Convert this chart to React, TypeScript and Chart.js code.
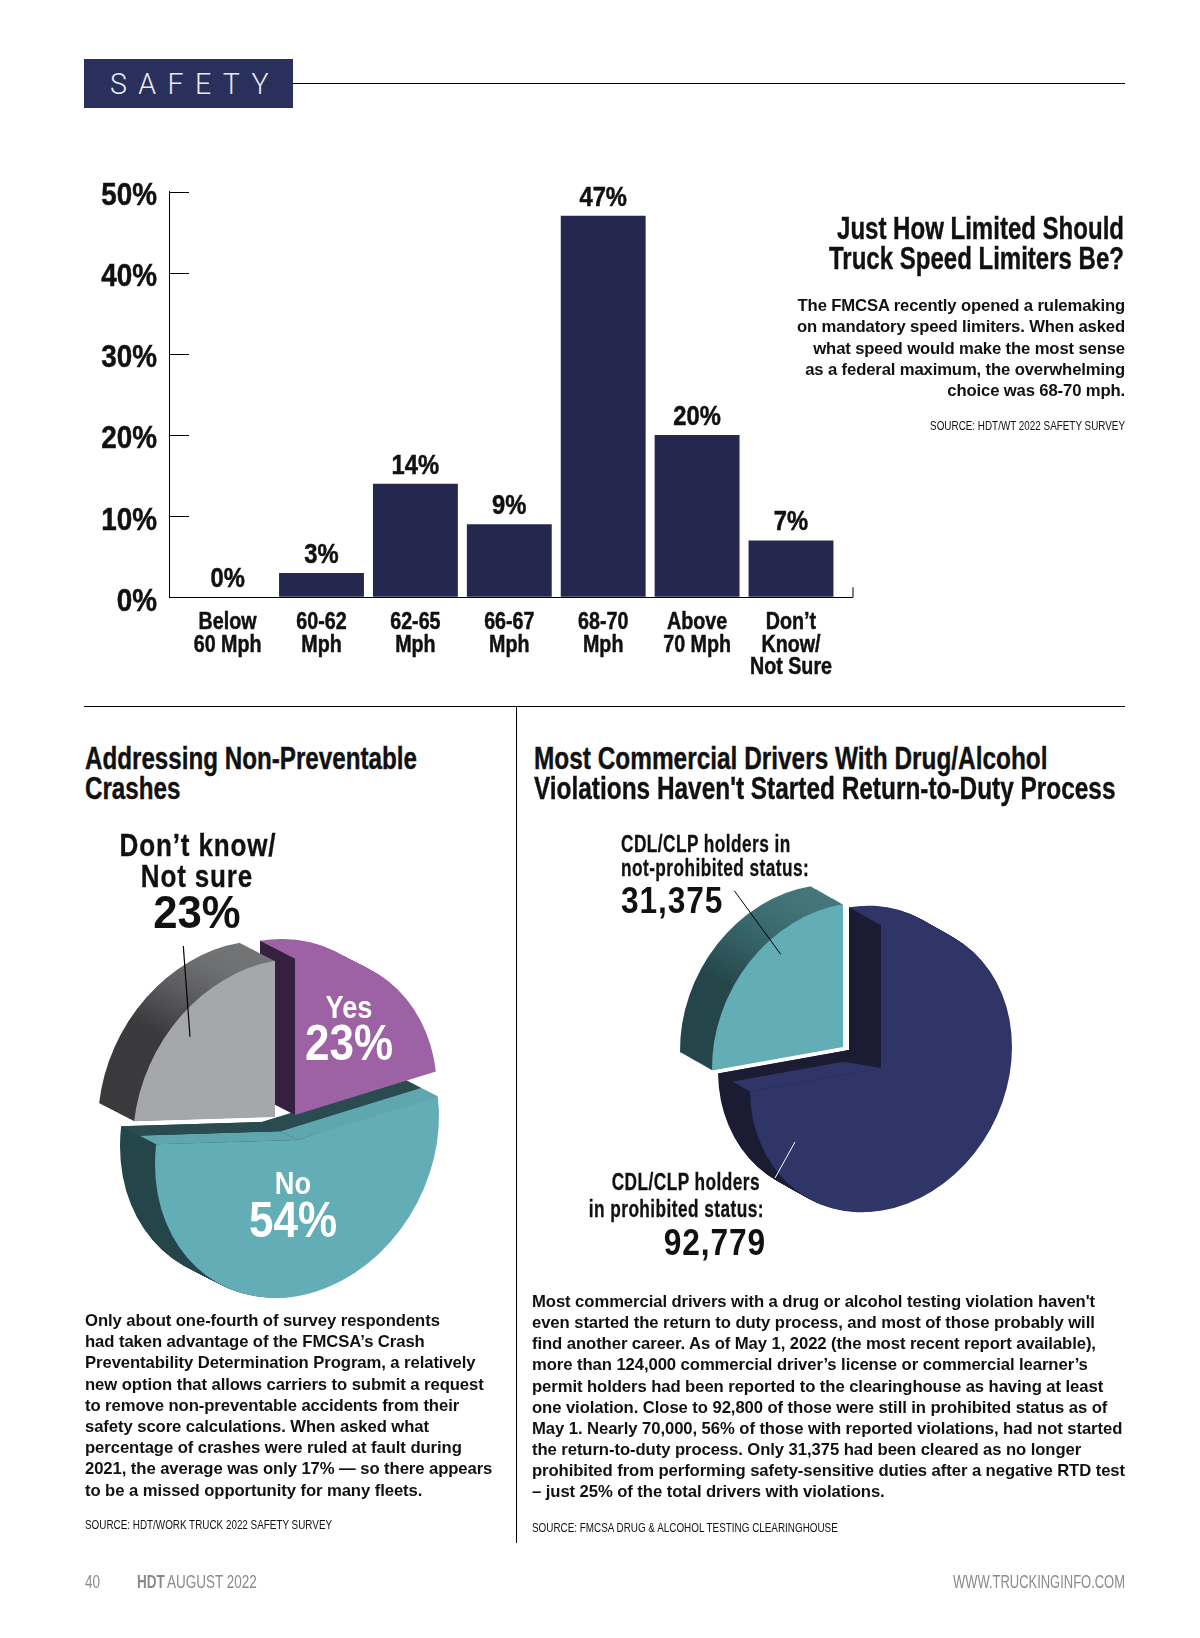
import React, { useEffect, useRef } from "react";
import { Chart, registerables } from "chart.js";

Chart.register(...registerables);

// ---------- data ----------
const speedLabels = [["Below", "60 Mph"], ["60-62", "Mph"], ["62-65", "Mph"], ["66-67", "Mph"], ["68-70", "Mph"], ["Above", "70 Mph"], ["Don’t", "Know/", "Not Sure"]];
const speedValues = [0, 3, 14, 9, 47, 20, 7];
const crashLabels = ["Yes", "No", "Don’t know/Not sure"];
const crashValues = [23, 54, 23];
const drugLabels = ["CDL/CLP holders in prohibited status", "CDL/CLP holders in not-prohibited status"];
const drugValues = [92779, 31375];

const speedTitle = ["Just How Limited Should", "Truck Speed Limiters Be?"];
const speedBody = [
  "The FMCSA recently opened a rulemaking",
  "on mandatory speed limiters. When asked",
  "what speed would make the most sense",
  "as a federal maximum, the overwhelming",
  "choice was 68-70 mph.",
];
const crashBody = [
  "Only about one-fourth of survey respondents",
  "had taken advantage of the FMCSA’s Crash",
  "Preventability Determination Program, a relatively",
  "new option that allows carriers to submit a request",
  "to remove non-preventable accidents from their",
  "safety score calculations. When asked what",
  "percentage of crashes were ruled at fault during",
  "2021, the average was only 17% — so there appears",
  "to be a missed opportunity for many fleets.",
];
const drugBody = [
  "Most commercial drivers with a drug or alcohol testing violation haven't",
  "even started the return to duty process, and most of those probably will",
  "find another career. As of May 1, 2022 (the most recent report available),",
  "more than 124,000 commercial driver’s license or commercial learner’s",
  "permit holders had been reported to the clearinghouse as having at least",
  "one violation. Close to 92,800 of those were still in prohibited status as of",
  "May 1. Nearly 70,000, 56% of those with reported violations, had not started",
  "the return-to-duty process. Only 31,375 had been cleared as no longer",
  "prohibited from performing safety-sensitive duties after a negative RTD test",
  "– just 25% of the total drivers with violations.",
];

// ---------- style ----------
const SANS = '"Liberation Sans", Arial, sans-serif';
const BAR = "#24284f";

type SliceStyle = {
  index: number;
  face: string;
  explode: [number, number];
  outerStops: [number, string][];
  outerLine: [number, number, number, number];
  innerStops: [number, string][];
  startStops?: [number, string][];
  apexShade?: [number, number, string];
};
type PieStyle = { shear: number; scaleY: number; depth: [number, number]; slices: SliceStyle[] };

const crashStyle: PieStyle = {
  shear: -0.17,
  scaleY: 1.1,
  depth: [-35, -18],
  slices: [
    {
      index: 1, face: "#63adb6", explode: [0, 0],
      outerLine: [-120, 0, 60, 0],
      outerStops: [[0, "#24464a"], [0.75, "#24464a"], [0.8, "#5ba0a8"], [1, "#5ba0a8"]],
      innerStops: [[0, "#5fa6ae"], [0.46, "#5fa6ae"], [0.49, "#2a4c50"], [1, "#2a4c50"]],
    },
    {
      index: 0, face: "#9c62a4", explode: [-2, -25],
      outerLine: [0, -190, 0, -100],
      outerStops: [[0, "#9c62a4"], [1, "#9c62a4"]],
      innerStops: [[0, "#35213f"], [1, "#35213f"]],
    },
    {
      index: 2, face: "#a6a7aa", explode: [-22, -23],
      outerLine: [0, -190, 0, -90],
      outerStops: [[0, "#929395"], [0.55, "#6e6f71"], [1, "#3a3a3c"]],
      innerStops: [[0, "#3a3a3c"], [1, "#3a3a3c"]],
    },
  ],
};
const drugStyle: PieStyle = {
  shear: -0.16,
  scaleY: 1.09,
  depth: [-32, -18],
  slices: [
    {
      index: 0, face: "#2f3567", explode: [0, 0],
      outerLine: [0, -120, 0, -20],
      outerStops: [[0, "#2f3567"], [1, "#1b1c33"]],
      innerStops: [[0, "#2f3567"], [0.53, "#2f3567"], [0.56, "#1b1c33"], [1, "#1b1c33"]],
      startStops: [[0, "#1b1c33"], [1, "#1b1c33"]],
      apexShade: [0.255, 0.92, "#1b1c33"],
    },
    {
      index: 1, face: "#63adb6", explode: [-38, -21],
      outerLine: [0, -180, 0, -70],
      outerStops: [[0, "#5f9a9f"], [0.6, "#3b6a6e"], [1, "#24464a"]],
      innerStops: [[0, "#24464a"], [1, "#24464a"]],
    },
  ],
};

// ---------- plugins ----------
function narrowText(ctx: any, text: string, x: number, y: number, size: number, sx: number, align: string) {
  ctx.save();
  ctx.translate(x, y);
  ctx.scale(sx, 1);
  ctx.font = `bold ${size}px ${SANS}`;
  ctx.textAlign = align;
  ctx.textBaseline = "alphabetic";
  ctx.fillStyle = "#111";
  ctx.strokeStyle = "#111";
  ctx.lineWidth = 0.5;
  ctx.fillText(text, 0, 0);
  ctx.strokeText(text, 0, 0);
  ctx.restore();
}

const barDecor = {
  id: "barDecor",
  afterDatasetsDraw(chart: any) {
    const { ctx, chartArea, scales } = chart;
    ctx.save();
    ctx.strokeStyle = "#000";
    ctx.lineWidth = 1;
    ctx.beginPath();
    for (const t of scales.y.ticks) {
      if (t.value === 0) continue;
      const y = Math.round(scales.y.getPixelForValue(t.value)) + 0.5;
      ctx.moveTo(chartArea.left, y);
      ctx.lineTo(chartArea.left + 20, y);
    }
    ctx.moveTo(chartArea.right + 0.5, chartArea.bottom);
    ctx.lineTo(chartArea.right + 0.5, chartArea.bottom - 10);
    ctx.stroke();
    ctx.restore();
    // value labels over the bars
    chart.getDatasetMeta(0).data.forEach((bar: any, i: number) => {
      narrowText(ctx, `${speedValues[i]}%`, bar.x, bar.y - 10, 27, 0.88, "center");
    });
    // axis tick labels
    for (const t of scales.y.ticks) {
      narrowText(ctx, t.label, chartArea.left - 12, scales.y.getPixelForValue(t.value) + 13.5, 32, 0.87, "right");
    }
    for (const t of scales.x.ticks) {
      const lines: string[] = Array.isArray(t.label) ? t.label : [t.label];
      lines.forEach((line, i) => {
        narrowText(ctx, line, scales.x.getPixelForValue(t.value), chartArea.bottom + 32 + i * 22.4, 24, 0.82, "center");
      });
    }
  },
};

const pie3d = {
  id: "pie3d",
  beforeDatasetDraw(chart: any, args: any, opts: any) {
    const style: PieStyle = opts.style;
    const { ctx } = chart;
    const arcs = args.meta.data;
    const [dx, dy] = style.depth;
    const steps = Math.ceil(Math.hypot(dx, dy));
    for (const s of style.slices) {
      const arc = arcs[s.index];
      const { x: cx, y: cy, startAngle, endAngle, outerRadius } = arc.getProps(["x", "y", "startAngle", "endAngle", "outerRadius"], true);
      const ox = cx + s.explode[0];
      const oy = cy + s.explode[1];
      const base = arc.options;
      const [l0, l1, l2, l3] = s.outerLine;
      const outer = ctx.createLinearGradient(cx + l0, cy + l1, cx + l2, cy + l3);
      s.outerStops.forEach(([p, c]) => outer.addColorStop(p, c));
      const place = (tx: number, ty: number) => {
        ctx.translate(tx, ty);
        ctx.transform(1, style.shear, 0, style.scaleY, 0, 0);
        ctx.translate(-cx, -cy);
      };
      arc.options = { ...base, backgroundColor: outer, borderWidth: 0 };
      for (let i = steps; i >= 1; i--) {
        ctx.save();
        place(ox + (dx * i) / steps, oy + (dy * i) / steps);
        arc.draw(ctx);
        ctx.restore();
      }
      // radial walls that face the viewer
      const pt = (a: number): [number, number] => {
        const ux = outerRadius * Math.cos(a);
        const uy = outerRadius * Math.sin(a);
        return [ux, style.shear * ux + style.scaleY * uy];
      };
      const wall = (a: number, isStart: boolean) => {
        const [px, py] = pt(a);
        const cross = px * dy - py * dx;
        if (isStart ? cross >= 0 : cross <= 0) return;
        const len = Math.hypot(px, py);
        const nx = -py / len;
        const ny = px / len;
        const d = dx * nx + dy * ny;
        const g = ctx.createLinearGradient(ox, oy, ox + nx * d, oy + ny * d);
        const stops = isStart && s.startStops ? s.startStops : s.innerStops;
        stops.forEach(([p, c]) => g.addColorStop(p, c));
        ctx.save();
        ctx.fillStyle = g;
        ctx.beginPath();
        ctx.moveTo(ox, oy);
        ctx.lineTo(ox + px, oy + py);
        ctx.lineTo(ox + px + dx, oy + py + dy);
        ctx.lineTo(ox + dx, oy + dy);
        ctx.closePath();
        ctx.fill();
        if (!isStart && s.apexShade) {
          const [ta, tb, c] = s.apexShade;
          ctx.fillStyle = c;
          ctx.beginPath();
          ctx.moveTo(ox, oy);
          ctx.lineTo(ox + ta * px + tb * dx, oy + ta * py + tb * dy);
          ctx.lineTo(ox + dx, oy + dy);
          ctx.closePath();
          ctx.fill();
        }
        ctx.restore();
      };
      wall(startAngle, true);
      wall(endAngle, false);
      arc.options = { ...base, backgroundColor: s.face, borderWidth: 0 };
      ctx.save();
      place(ox, oy);
      arc.draw(ctx);
      ctx.restore();
      arc.options = base;
    }
    return false;
  },
};

// ---------- charts ----------
function BarChart() {
  const ref = useRef<HTMLCanvasElement>(null);
  useEffect(() => {
    const chart = new Chart(ref.current!, {
      type: "bar",
      data: {
        datasets: [{
          data: speedValues.map((v, i) => ({ x: i, y: v })),
          backgroundColor: BAR,
          barPercentage: 0.904,
          categoryPercentage: 1,
        }],
      },
      options: {
        responsive: false,
        animation: false,
        layout: { padding: { left: 59, right: 47.5, top: 191.5, bottom: 22.7 } },
        plugins: { legend: { display: false }, tooltip: { enabled: false } },
        scales: {
          x: {
            type: "linear",
            offset: false,
            min: -0.624,
            max: 6.655,
            afterBuildTicks: (s: any) => { s.ticks = speedLabels.map((_, i) => ({ value: i })); },
            afterFit: (s: any) => { s.height = 100; },
            grid: { display: true, offset: false, drawOnChartArea: false, drawTicks: false, color: "rgba(0,0,0,0)" },
            border: { display: true, color: "#000", width: 1 },
            ticks: { display: false, autoSkip: false, callback: (v: any) => speedLabels[v] as any },
          },
          y: {
            min: 0,
            max: 50,
            afterFit: (s: any) => { s.width = 110; },
            grid: { display: true, drawOnChartArea: false, drawTicks: false },
            border: { display: true, color: "#000", width: 1 },
            ticks: { display: false, stepSize: 10, callback: (v: any) => `${v}%` },
          },
        },
      },
      plugins: [barDecor],
    } as any);
    return () => chart.destroy();
  }, []);
  return <canvas ref={ref} width={900} height={720} style={{ position: "absolute", left: 0, top: 0, display: "block" }} />;
}

function Pie3D({ labels, values, style, left, top, size, pad }: any) {
  const ref = useRef<HTMLCanvasElement>(null);
  useEffect(() => {
    const chart = new Chart(ref.current!, {
      type: "pie",
      data: { labels, datasets: [{ data: values, borderWidth: 0, clip: false }] },
      options: {
        responsive: false,
        animation: false,
        layout: { padding: pad },
        plugins: { legend: { display: false }, tooltip: { enabled: false }, pie3d: { style } },
      },
      plugins: [pie3d],
    } as any);
    return () => chart.destroy();
  }, []);
  return <canvas ref={ref} width={size} height={size} style={{ position: "absolute", left, top, display: "block" }} />;
}

// ---------- text ----------
function T({ x, y, align = "left", size, weight = 700, color = "#111", spacing = 0, sx = 1, font = SANS, stroke = 0, children }: any) {
  const tx = align === "center" ? "-50%" : align === "right" ? "-100%" : "0";
  return (
    <div
      style={{
        position: "absolute",
        left: x,
        top: y,
        transform: `translate(${tx}, -50%) scaleX(${sx})`,
        transformOrigin: align,
        fontFamily: font,
        fontSize: size,
        fontWeight: weight,
        color,
        letterSpacing: spacing,
        lineHeight: 1,
        whiteSpace: "nowrap",
        WebkitTextStroke: stroke ? `${stroke}px ${color}` : undefined,
      }}
    >
      {children}
    </div>
  );
}

function Rule({ x, y, w, h, c = "#000" }: any) {
  return <div style={{ position: "absolute", left: x, top: y, width: w, height: h, background: c }} />;
}

export default function App() {
  const title = { size: 31, sx: 0.78, stroke: 0.4 };
  const small = { size: 23, sx: 0.75, stroke: 0.3 };
  const src = { size: 13, weight: 400, sx: 0.76 };
  const foot = { size: 18, weight: 400, color: "#8a8a8a", sx: 0.75 };
  const body = { size: 17, sx: 0.98, spacing: -0.08 };
  return (
    <div style={{ position: "absolute", left: 0, top: 0, width: 1200, height: 1638, background: "#fff", overflow: "hidden" }}>
      <BarChart />
      <Pie3D labels={crashLabels} values={crashValues} style={crashStyle} left={17} top={860} size={560} pad={138} />
      <Pie3D labels={drugLabels} values={drugValues} style={drugStyle} left={601} top={788} size={560} pad={149} />

      <Rule x={84} y={59} w={209} h={49} c="#2a305c" />
      <Rule x={293} y={83} w={832} h={1} />
      <T x={110} y={84} size={30} font="Roboto" weight={300} color="#e9ebf2" spacing={12} sx={0.95}>SAFETY</T>

      {speedTitle.map((t, i) => (
        <T key={t} x={1124} y={227.5 + i * 30.3} align="right" {...title} sx={0.775}>{t}</T>
      ))}
      {speedBody.map((t, i) => (
        <T key={t} x={1125} y={305 + i * 21.25} align="right" {...body} spacing={-0.14}>{t}</T>
      ))}
      <T x={1125} y={425} align="right" {...src}>SOURCE: HDT/WT 2022 SAFETY SURVEY</T>

      <Rule x={84} y={706} w={1041} h={1} />
      <Rule x={516} y={706} w={1} h={837} />

      <T x={84.6} y={758} {...title}>Addressing Non-Preventable</T>
      <T x={84.6} y={788} {...title}>Crashes</T>
      <T x={534} y={758} {...title} sx={0.787}>Most Commercial Drivers With Drug/Alcohol</T>
      <T x={534} y={788} {...title} sx={0.787}>Violations Haven't Started Return-to-Duty Process</T>

      <T x={198} y={845} align="center" size={31} spacing={1} sx={0.84} stroke={0.3}>Don’t know/</T>
      <T x={197} y={876} align="center" size={31} spacing={1} sx={0.84} stroke={0.3}>Not sure</T>
      <T x={197} y={912} align="center" size={46} sx={0.95}>23%</T>
      <T x={349} y={1007} align="center" size={32} color="#fff" sx={0.85}>Yes</T>
      <T x={349} y={1043} align="center" size={50} color="#fff" sx={0.88}>23%</T>
      <T x={293} y={1183} align="center" size={32} color="#fff" sx={0.85}>No</T>
      <T x={293} y={1220} align="center" size={50} color="#fff" sx={0.88}>54%</T>

      <T x={620.7} y={844} spacing={0.6} {...small}>CDL/CLP holders in</T>
      <T x={620.7} y={868} spacing={0.6} {...small}>not-prohibited status:</T>
      <T x={620.7} y={901} size={36} spacing={1} sx={0.88}>31,375</T>
      <T x={759.5} y={1182} align="right" spacing={0.6} {...small}>CDL/CLP holders</T>
      <T x={764} y={1209} align="right" spacing={0.6} {...small}>in prohibited status:</T>
      <T x={766} y={1243} align="right" size={36} spacing={1} sx={0.88}>92,779</T>

      <svg width={1200} height={1638} style={{ position: "absolute", left: 0, top: 0, pointerEvents: "none" }}>
        <line x1={183.3} y1={946} x2={190} y2={1036.7} stroke="#000" strokeWidth={1.2} />
        <line x1={734.3} y1={890.7} x2={780.7} y2={954.3} stroke="#000" strokeWidth={1} />
        <line x1={795} y1={1142} x2={775} y2={1178} stroke="#fff" strokeWidth={1} />
      </svg>

      {crashBody.map((t, i) => (
        <T key={t} x={85.2} y={1320 + i * 21.2} {...body}>{t}</T>
      ))}
      <T x={85.2} y={1524} {...src}>SOURCE: HDT/WORK TRUCK 2022 SAFETY SURVEY</T>
      {drugBody.map((t, i) => (
        <T key={t} x={532} y={1301 + i * 21.15} {...body}>{t}</T>
      ))}
      <T x={532} y={1527} {...src}>SOURCE: FMCSA DRUG &amp; ALCOHOL TESTING CLEARINGHOUSE</T>

      <T x={84.6} y={1582} {...foot}>40</T>
      <T x={137} y={1582} {...foot} weight={700}>HDT</T>
      <T x={167} y={1582} {...foot}>AUGUST 2022</T>
      <T x={1125} y={1582} align="right" {...foot} sx={0.72}>WWW.TRUCKINGINFO.COM</T>
    </div>
  );
}
